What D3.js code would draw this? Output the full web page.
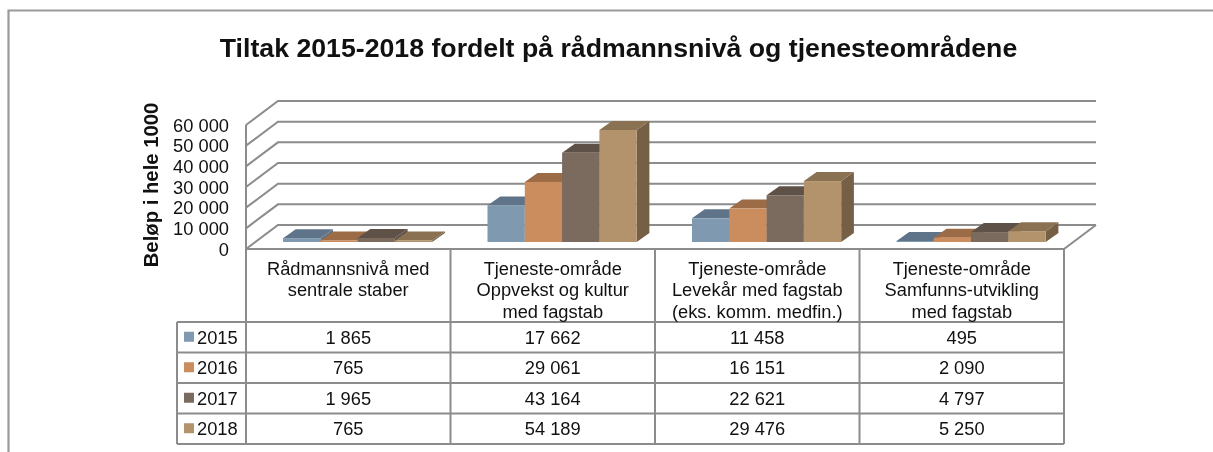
<!DOCTYPE html>
<html>
<head>
<meta charset="utf-8">
<title>Tiltak 2015-2018</title>
<script src="https://cdn.jsdelivr.net/npm/d3@7"></script>
<style>
    html, body { margin: 0; padding: 0; background: #fff; overflow: hidden; }
    svg { display: block; filter: blur(0.35px); }
    text { font-family: "Liberation Sans", Arial, sans-serif; fill: #111; }
</style>
</head>
<body>
<svg width="1213" height="452"></svg>
<script>
    const years = ["2015", "2016", "2017", "2018"];
    const categories = [
        ["Rådmannsnivå med", "sentrale staber"],
        ["Tjeneste-område", "Oppvekst og kultur", "med fagstab"],
        ["Tjeneste-område", "Levekår med fagstab", "(eks. komm. medfin.)"],
        ["Tjeneste-område", "Samfunns-utvikling", "med fagstab"]
    ];
    const values2015 = [1865, 17662, 11458, 495];
    const values2016 = [765, 29061, 16151, 2090];
    const values2017 = [1965, 43164, 22621, 4797];
    const values2018 = [765, 54189, 29476, 5250];
    const yTicks = [0, 10000, 20000, 30000, 40000, 50000, 60000];
    const front = ["#7f99b0", "#cb8d5d", "#7b6a5e", "#b3936b"];
    const top_ = ["#5f7488", "#9c6c47", "#5e5148", "#8a7152"];
    const side = ["#5f7488", "#9c6c47", "#5e5148", "#756045"];

    const series = [values2015, values2016, values2017, values2018];
    const fmt = d => d3.format(",")(d).replace(/,/g, " ");
    const grey = "#8c8c8c";
    const fontSize = 18.3;

    const svg = d3.select("svg");

    // plot frame
    const left = 246, right = 1064, floorY = 249, topY = 125;
    const dx = 32, dy = 24;              // wall offset
    const barDx = 12.7, barDy = 9;       // bar depth
    const y = d3.scaleLinear().domain([0, 60000]).range([floorY, topY]);
    const x = d3.scaleBand().domain(d3.range(categories.length)).range([left, right]);
    const barW = 37.3, barOffset = 37, barBase = 242;
    const h = d => floorY - y(d);

    // outer chart border
    svg.append("path")
        .attr("d", "M8.5,452V10.5H1213")
        .attr("fill", "none").attr("stroke", "#9a9a9a").attr("stroke-width", 2.2);

    // gridlines and side wall
    const grid = svg.append("g").attr("fill", "none").attr("stroke", grey).attr("stroke-width", 2);
    yTicks.forEach(t => {
        grid.append("path")
            .attr("d", d3.line()([[left, y(t)], [left + dx, y(t) - dy], [right + dx, y(t) - dy]]));
    });
    grid.append("path").attr("d", d3.line()([[left, y(0)], [left, y(60000)]]));
    // floor front and right edge
    grid.append("path").attr("d", d3.line()([[left, y(0)], [right, y(0)], [right + dx, y(0) - dy]]));

    // y axis labels
    svg.append("g").selectAll("text").data(yTicks).join("text")
        .attr("x", 229).attr("y", d => y(d) + 6.5)
        .attr("text-anchor", "end").attr("font-size", fontSize)
        .text(fmt);

    // bars, drawn left to right so neighbours overlap
    const bars = svg.append("g");
    categories.forEach((c, i) => {
        years.forEach((yr, s) => {
            const v = series[s][i];
            const x0 = x(i) + barOffset + s * barW;
            const x1 = x0 + barW;
            const yt = barBase - h(v);
            const g = bars.append("g");
            g.append("path").attr("fill", side[s])
                .attr("d", d3.line()([[x1, barBase], [x1 + barDx, barBase - barDy], [x1 + barDx, yt - barDy], [x1, yt]]));
            g.append("path").attr("fill", top_[s])
                .attr("d", d3.line()([[x0, yt], [x0 + barDx, yt - barDy], [x1 + barDx, yt - barDy], [x1, yt]]));
            g.append("rect").attr("fill", front[s])
                .attr("x", x0).attr("y", yt).attr("width", barW).attr("height", barBase - yt);
        });
    });

    // data table
    const rowY = d3.scalePoint().domain(d3.range(years.length + 1)).range([322, 444]);
    const tableLeft = 177;
    const table = svg.append("g").attr("fill", "none").attr("stroke", grey).attr("stroke-width", 2);
    rowY.domain().forEach(r => {
        table.append("path").attr("d", d3.line()([[tableLeft, rowY(r)], [right, rowY(r)]]));
    });
    table.append("path").attr("d", d3.line()([[tableLeft, rowY(0)], [tableLeft, rowY(4)]]));
    d3.range(categories.length + 1).forEach(i => {
        const xx = i < categories.length ? x(i) : right;
        table.append("path").attr("d", d3.line()([[xx, floorY], [xx, rowY(4)]]));
    });

    // category headers
    categories.forEach((c, i) => {
        const t = svg.append("text").attr("text-anchor", "middle").attr("font-size", fontSize);
        c.forEach((line, k) => {
            t.append("tspan").attr("x", x(i) + x.bandwidth() / 2).attr("y", 274.5 + k * 21.6).text(line);
        });
    });

    // legend keys and values
    years.forEach((yr, s) => {
        const cy = (rowY(s) + rowY(s + 1)) / 2;
        svg.append("rect").attr("x", 184).attr("y", cy - 5.5).attr("width", 10).attr("height", 10).attr("fill", front[s]);
        svg.append("text").attr("x", 197).attr("y", cy + 6.3).attr("font-size", fontSize).text(yr);
        categories.forEach((c, i) => {
            svg.append("text")
                .attr("x", x(i) + x.bandwidth() / 2).attr("y", cy + 6.5)
                .attr("text-anchor", "middle").attr("font-size", fontSize)
                .text(fmt(series[s][i]));
        });
    });

    // titles
    svg.append("text").attr("x", 618.5).attr("y", 56.5).attr("text-anchor", "middle")
        .attr("font-size", 26.7).attr("font-weight", "bold")
        .text("Tiltak 2015-2018 fordelt på rådmannsnivå og tjenesteområdene");
    svg.append("text").attr("transform", "translate(158,185) rotate(-90)").attr("text-anchor", "middle")
        .attr("font-size", 20.3).attr("font-weight", "bold")
        .text("Beløp i hele 1000");
</script>
</body>
</html>
